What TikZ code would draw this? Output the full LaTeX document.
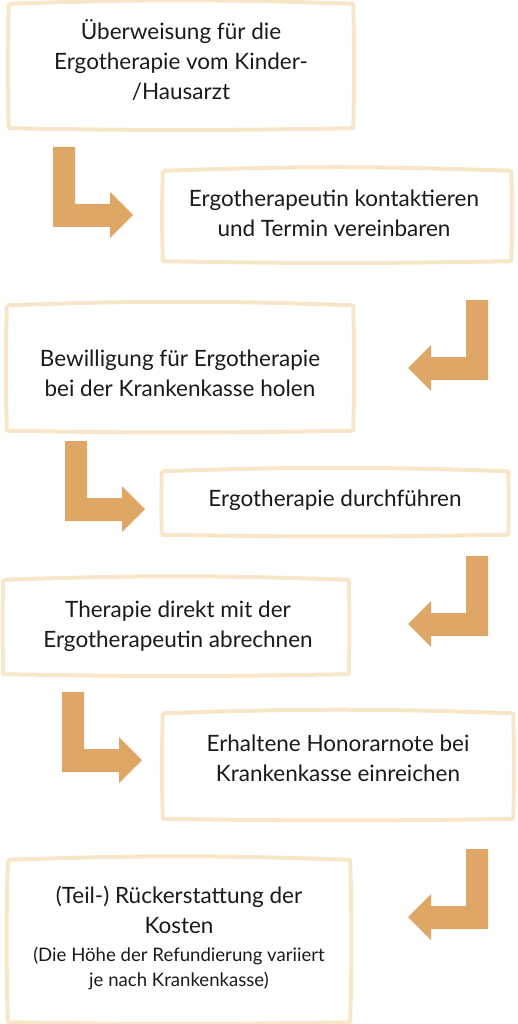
\documentclass[tikz,border=0pt]{standalone}
\usepackage{fontspec}
\setmainfont{Lato}
\usetikzlibrary{calc}
\definecolor{cream}{HTML}{F7E6C8}
\definecolor{ochre}{HTML}{DFA766}
\definecolor{ink}{HTML}{1A1A1A}
\newcommand{\bigtxt}{\fontsize{22.5}{30}\selectfont}
\newcommand{\smalltxt}{\fontsize{18.6}{25}\selectfont}
\tikzset{
  frame/.style = {inner sep=0pt},
  stepbox/.style = {align=center, text=ink, font=\bigtxt, inner sep=0pt},
  boxline/.style = {draw=cream, line width=4pt, line join=round},
  elbow/.pic = {
    \fill[ochre] (0,0) -- (22,0) -- (22,-57) -- (57,-57) -- (57,-45)
      -- (80,-68) -- (57,-91) -- (57,-80) -- (0,-80) -- cycle;
  }
}

\begin{document}
\begin{tikzpicture}[x=1pt, y=1pt]
\useasboundingbox (0,0) rectangle (517,-1024);
% frames
\node [frame, minimum width=344pt, minimum height=124pt] (b1) at (181,-66) {};
\node [frame, minimum width=348pt, minimum height=90pt] (b2) at (337,-216) {};
\node [frame, minimum width=346pt, minimum height=125pt] (b3) at (180,-368) {};
\node [frame, minimum width=346pt, minimum height=63pt] (b4) at (335,-503) {};
\node [frame, minimum width=345pt, minimum height=94pt] (b5) at (176,-627) {};
\node [frame, minimum width=350pt, minimum height=105pt] (b6) at (338,-766) {};
\node [frame, minimum width=342pt, minimum height=162pt] (b7) at (179,-941) {};
\foreach \n in {b1,b2,b3,b4,b5,b6,b7}
  \draw [boxline] (\n.north west) to[bend left=2] (\n.north east)
    to[bend left=1.5] (\n.south east) to[bend left=1] (\n.south west)
    to[bend left=1.5] (\n.north west);
% texts
\node [stepbox] (t1) at ($(b1.center)+(0,6)$)
  {Überweisung für die\\Ergotherapie vom Kinder-\\/Hausarzt};
\node [stepbox] (t2) at ($(b2.center)+(-3,3)$)
  {Ergotherapeutin kontaktieren\\und Termin vereinbaren};
\node [stepbox] (t3) at ($(b3.center)+(0,-5)$)
  {Bewilligung für Ergotherapie\\bei der Krankenkasse holen};
\node [stepbox] (t4) at ($(b4.center)+(0,3)$)
  {Ergotherapie durchführen};
\node [stepbox] (t5) at ($(b5.center)+(2,1)$)
  {Therapie direkt mit der\\Ergotherapeutin abrechnen};
\node [stepbox] (t6) at ($(b6.center)+(0,8)$)
  {Erhaltene Honorarnote bei\\Krankenkasse einreichen};
\node [stepbox] (t7) at ($(b7.center)+(0,3)$)
  {(Teil-) Rückerstattung der\\Kosten\\[-2pt]
   {\smalltxt (Die Höhe der Refundierung variiert}\\[-5pt]
   {\smalltxt je nach Krankenkasse)}};
% arrows
\pic at (53,-147) {elbow};
\pic [xscale=-1] at (488,-300) {elbow};
\pic at (65,-441) {elbow};
\pic [xscale=-1] at (488,-556) {elbow};
\pic at (62,-692) {elbow};
\pic [xscale=-1] at (488,-849) {elbow};
\end{tikzpicture}
\end{document}
